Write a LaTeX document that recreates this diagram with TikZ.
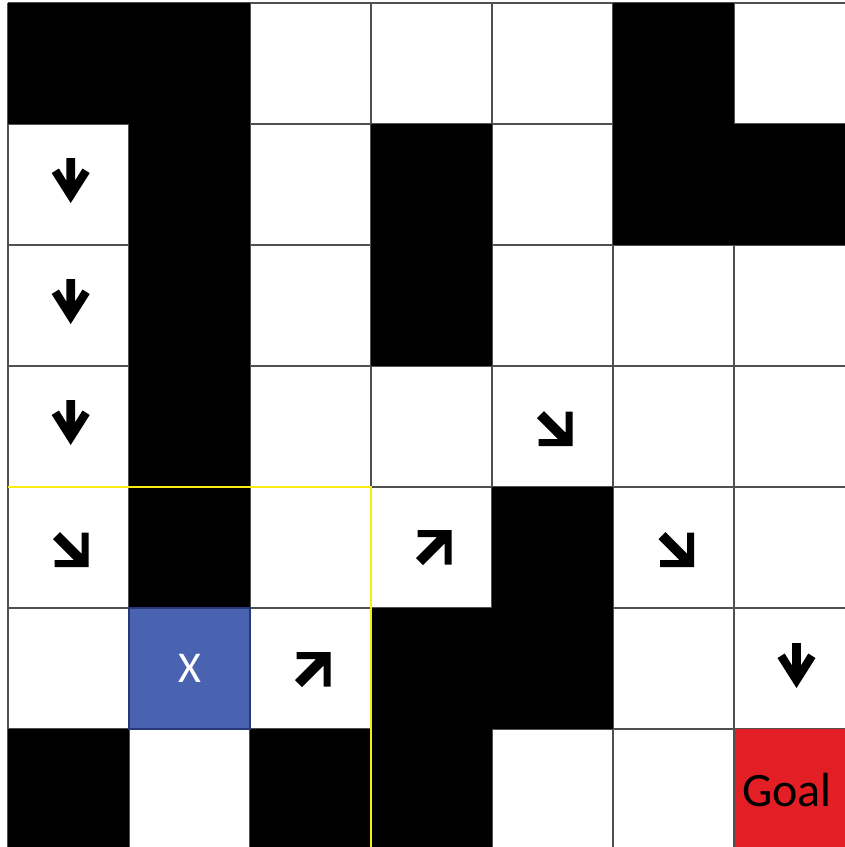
\documentclass[tikz,border=0pt]{standalone}
\usepackage{fontspec}
\setmainfont{Carlito}
\definecolor{cellblue}{RGB}{74,99,176}
\definecolor{cellbluedark}{RGB}{40,55,120}
\definecolor{goalred}{RGB}{227,30,36}
\definecolor{pathyellow}{RGB}{250,235,20}
\definecolor{gridgray}{RGB}{80,80,80}
\tikzset{
  gridline/.style={draw=gridgray, line width=1.5pt},
  wall/.style={fill=black},
  downarr/.pic={\fill[black] (-4.4,-22.5) -- (4.4,-22.5) -- (4.4,0) -- (11.8,-12) -- (19,-7.5) -- (0,22.5) -- (-19,-7.5) -- (-11.8,-12) -- (-4.4,0) -- cycle;},
  diagarr/.pic={\fill[black] (-10.5,-17.5) -- (11,4) -- (11,-17) -- (18,-17) -- (18,17.5) -- (-16,17.5) -- (-16,10.5) -- (3.5,10.5) -- (-17.5,-10.5) -- cycle;},
  celltext/.style={font=\fontsize{44}{44}\selectfont, inner sep=0pt}
}
\begin{document}
\begin{tikzpicture}[x=1pt,y=-1pt]
\useasboundingbox (0,0) rectangle (845,847);
\fill[white] (0,0) rectangle (845,847);
% grid lines
\foreach \i in {0,...,7} {
  \draw[gridline] (8+121*\i,3) -- (8+121*\i,850);
  \draw[gridline] (8,3+121*\i) -- (856,3+121*\i);
}
% walls
\foreach \c/\r in {0/0,1/0,5/0, 1/1,3/1,5/1,6/1, 1/2,3/2, 1/3, 1/4,4/4, 3/5,4/5, 0/6,2/6,3/6} {
  \fill[wall] (8+121*\c,3+121*\r) rectangle ++(121,121);
}
% agent cell
\filldraw[fill=cellblue, draw=cellbluedark, line width=1.2pt] (129,608) rectangle (250,729);
\node[celltext, text=white] (agent) at (189.5,668.5) {X};
% goal cell
\fill[goalred] (735,729) rectangle (856,850);
\node[celltext, font=\fontsize{48}{48}\selectfont] (goal) at (787,790) {Goal};
% yellow outline
\draw[pathyellow, line width=2.4pt] (8,487) -- (371,487) -- (371,850);
% arrows
\pic at (70.7,180.5) {downarr};
\pic at (70.7,301.5) {downarr};
\pic at (70.7,422.5) {downarr};
\pic at (796.5,665.5) {downarr};
\pic at (70.5,549.5) {diagarr};
\pic at (554.5,428.5) {diagarr};
\pic at (676,549.5) {diagarr};
\pic[yscale=-1] at (433.5,547.5) {diagarr};
\pic[yscale=-1] at (312.5,669.5) {diagarr};
\end{tikzpicture}
\end{document}
